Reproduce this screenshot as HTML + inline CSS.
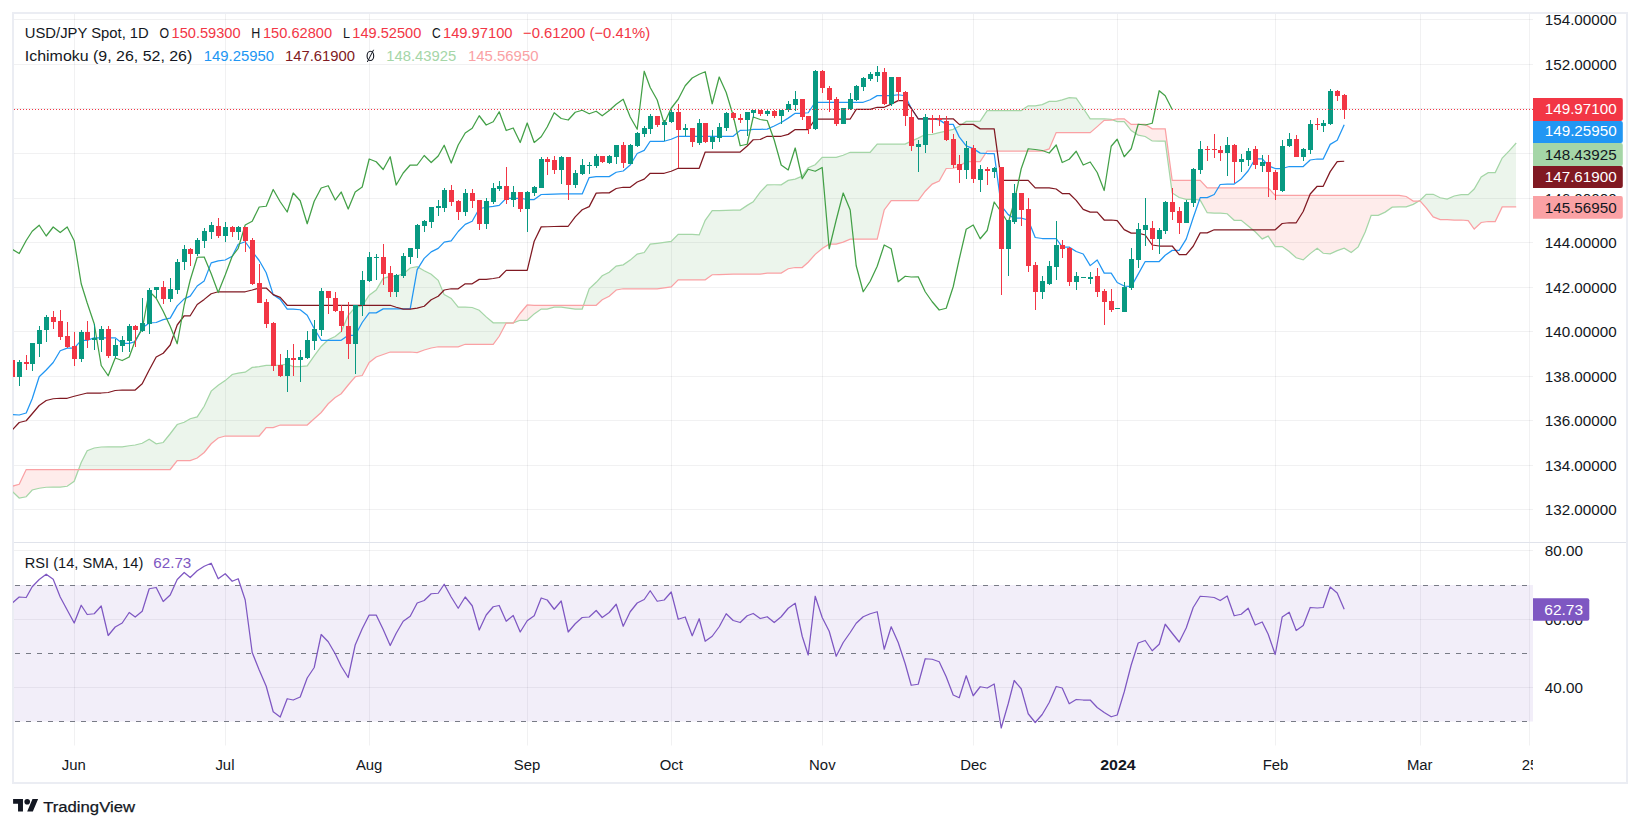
<!DOCTYPE html><html><head><meta charset="utf-8"><title>USD/JPY</title><style>html,body{margin:0;padding:0;background:#fff}body{width:1640px;height:829px;position:relative;overflow:hidden;font-family:"Liberation Sans",sans-serif}</style></head><body><svg width="1640" height="829" viewBox="0 0 1640 829" style="position:absolute;left:0;top:0"><defs><clipPath id="cm"><rect x="13" y="14" width="1520" height="528"/></clipPath><clipPath id="cr"><rect x="13" y="543" width="1520" height="203"/></clipPath></defs><g stroke="#2a2e39" stroke-opacity="0.065" stroke-width="1" fill="none"><path d="M14 509.5H1533"/><path d="M14 465.5H1533"/><path d="M14 420.5H1533"/><path d="M14 376.5H1533"/><path d="M14 331.5H1533"/><path d="M14 287.5H1533"/><path d="M14 242.5H1533"/><path d="M14 198.5H1533"/><path d="M14 153.5H1533"/><path d="M14 108.5H1533"/><path d="M14 64.5H1533"/><path d="M14 19.5H1533"/><path d="M14 550.5H1533"/><path d="M14 619.5H1533"/><path d="M14 687.5H1533"/><path d="M74.5 14V745.5"/><path d="M225.5 14V745.5"/><path d="M369.5 14V745.5"/><path d="M527.5 14V745.5"/><path d="M671.5 14V745.5"/><path d="M822.5 14V745.5"/><path d="M973.5 14V745.5"/><path d="M1117.5 14V745.5"/><path d="M1275.5 14V745.5"/><path d="M1420.5 14V745.5"/><path d="M1529.5 14V745.5"/></g><path d="M14 542.5H1626" stroke="#e0e3eb" stroke-width="1"/><rect x="13" y="13" width="1614" height="770" fill="none" stroke="#ebedf3" stroke-width="2"/><g clip-path="url(#cm)"><path d="M5.2 485.25L7.82 487.5L5.2 488.25ZM78.59 469.5L81.2 462.5L81.2 469.5ZM81.2 462.5L87.2 450.75L87.2 469.5L81.2 469.5ZM87.2 450.75L94.2 448L94.2 469.5L87.2 469.5ZM94.2 448L101.2 447L101.2 469.5L94.2 469.5ZM101.2 447L108.2 446.75L108.2 469.5L101.2 469.5ZM108.2 446.75L115.2 446.75L115.2 469.5L108.2 469.5ZM115.2 446.75L122.2 446.75L122.2 469.5L115.2 469.5ZM122.2 446.75L129.2 445.75L129.2 469.5L122.2 469.5ZM129.2 445.75L135.2 445L135.2 469.5L129.2 469.5ZM135.2 445L142.2 443.25L142.2 469.5L135.2 469.5ZM142.2 443.25L149.2 439.25L149.2 469.5L142.2 469.5ZM149.2 439.25L156.2 443.75L156.2 469.5L149.2 469.5ZM156.2 443.75L163.2 442.5L163.2 469.5L156.2 469.5ZM163.2 442.5L170.2 433.75L170.2 469.5L163.2 469.5ZM170.2 433.75L177.2 424.5L177.2 460.5L170.2 469.5ZM177.2 424.5L184.2 422.25L184.2 460.5L177.2 460.5ZM184.2 422.25L190.2 418.75L190.2 460.5L184.2 460.5ZM190.2 418.75L197.2 416.88L197.2 458L190.2 460.5ZM197.2 416.88L204.2 406.25L204.2 452.5L197.2 458ZM204.2 406.25L211.2 391.12L211.2 443.75L204.2 452.5ZM211.2 391.12L218.2 385.25L218.2 438L211.2 443.75ZM218.2 385.25L225.2 380.62L225.2 436L218.2 438ZM225.2 380.62L232.2 374.5L232.2 436L225.2 436ZM232.2 374.5L238.2 373.19L238.2 436L232.2 436ZM238.2 373.19L245.2 372.19L245.2 436L238.2 436ZM245.2 372.19L252.2 367.44L252.2 436L245.2 436ZM252.2 367.44L259.2 366.69L259.2 436L252.2 436ZM259.2 366.69L266.2 365.38L266.2 427.5L259.2 436ZM266.2 365.38L273.2 365.38L273.2 427.5L266.2 427.5ZM273.2 365.38L280.2 365.12L280.2 425L273.2 427.5ZM280.2 365.12L287.2 364.12L287.2 425L280.2 425ZM287.2 364.12L293.2 366.69L293.2 425L287.2 425ZM293.2 366.69L300.2 366.69L300.2 425L293.2 425ZM300.2 366.69L307.2 365.81L307.2 425L300.2 425ZM307.2 365.81L314.2 355.88L314.2 418.75L307.2 425ZM314.2 355.88L321.2 346.5L321.2 412.5L314.2 418.75ZM321.2 346.5L328.2 339.75L328.2 403.75L321.2 412.5ZM328.2 339.75L335.2 336.44L335.2 397.5L328.2 403.75ZM335.2 336.44L341.2 331.56L341.2 393.75L335.2 397.5ZM341.2 331.56L348.2 315.44L348.2 385L341.2 393.75ZM348.2 315.44L355.2 307.31L355.2 376.75L348.2 385ZM355.2 307.31L362.2 305.94L362.2 375.5L355.2 376.75ZM362.2 305.94L369.2 295.25L369.2 362.5L362.2 375.5ZM369.2 295.25L376.2 290.12L376.2 357L369.2 362.5ZM376.2 290.12L383.2 278.31L383.2 354.5L376.2 357ZM383.2 278.31L390.2 276.31L390.2 352L383.2 354.5ZM390.2 276.31L396.2 275.88L396.2 352L390.2 352ZM396.2 275.88L403.2 274L403.2 352L396.2 352ZM403.2 274L410.2 268L410.2 352L403.2 352ZM410.2 268L417.2 266.75L417.2 352.5L410.2 352ZM417.2 266.75L424.2 270.75L424.2 350L417.2 352.5ZM424.2 270.75L431.2 274.25L431.2 348L424.2 350ZM431.2 274.25L438.2 280.38L438.2 346.75L431.2 348ZM438.2 280.38L444.2 294.62L444.2 346.75L438.2 346.75ZM444.2 294.62L451.2 298.38L451.2 346.75L444.2 346.75ZM451.2 298.38L458.2 307.19L458.2 346.75L451.2 346.75ZM458.2 307.19L465.2 307.19L465.2 344.25L458.2 346.75ZM465.2 307.19L472.2 307.5L472.2 344.25L465.2 344.25ZM472.2 307.5L479.2 310.25L479.2 344.25L472.2 344.25ZM479.2 310.25L486.2 316.88L486.2 344.25L479.2 344.25ZM486.2 316.88L493.2 322.75L493.2 344.25L486.2 344.25ZM493.2 322.75L499.2 322.75L499.2 336.25L493.2 344.25ZM499.2 322.75L506.2 322.75L506.2 323L499.2 336.25ZM506.2 322.75L513.2 322.75L513.2 323L506.2 323ZM513.2 322.75L513.44 322.66L513.2 323ZM583.5 305.25L589.2 288.88L589.2 305.25ZM589.2 288.88L596.2 282.31L596.2 305.25L589.2 305.25ZM596.2 282.31L602.2 275.81L602.2 299.75L596.2 305.25ZM602.2 275.81L609.2 272.31L609.2 296.25L602.2 299.75ZM609.2 272.31L616.2 266.06L616.2 290L609.2 296.25ZM616.2 266.06L623.2 264.81L623.2 288.75L616.2 290ZM623.2 264.81L630.2 260.12L630.2 288.75L623.2 288.75ZM630.2 260.12L637.2 254.06L637.2 288.75L630.2 288.75ZM637.2 254.06L644.2 252.5L644.2 288.75L637.2 288.75ZM644.2 252.5L650.2 244.06L650.2 288.75L644.2 288.75ZM650.2 244.06L657.2 243.31L657.2 288.75L650.2 288.75ZM657.2 243.31L664.2 242.44L664.2 287.88L657.2 288.75ZM664.2 242.44L671.2 241.44L671.2 286.88L664.2 287.88ZM671.2 241.44L678.2 234.31L678.2 279.75L671.2 286.88ZM678.2 234.31L685.2 234.31L685.2 279.75L678.2 279.75ZM685.2 234.31L692.2 234.31L692.2 279.75L685.2 279.75ZM692.2 234.31L699.2 234.94L699.2 279.75L692.2 279.75ZM699.2 234.94L705.2 220.38L705.2 279.75L699.2 279.75ZM705.2 220.38L712.2 210.69L712.2 274.75L705.2 279.75ZM712.2 210.69L719.2 210.56L719.2 274.62L712.2 274.75ZM719.2 210.56L726.2 210.31L726.2 274.38L719.2 274.62ZM726.2 210.31L733.2 210.06L733.2 274.12L726.2 274.38ZM733.2 210.06L740.2 210.06L740.2 274.12L733.2 274.12ZM740.2 210.06L747.2 205.38L747.2 274.12L740.2 274.12ZM747.2 205.38L753.2 201.81L753.2 274.12L747.2 274.12ZM753.2 201.81L760.2 192.12L760.2 274.12L753.2 274.12ZM760.2 192.12L767.2 184.88L767.2 273.12L760.2 274.12ZM767.2 184.88L774.2 184.75L774.2 273.12L767.2 273.12ZM774.2 184.75L781.2 184.75L781.2 273.12L774.2 273.12ZM781.2 184.75L788.2 180.38L788.2 268.75L781.2 273.12ZM788.2 180.38L795.2 179.12L795.2 267.5L788.2 268.75ZM795.2 179.12L802.2 176.12L802.2 267.5L795.2 267.5ZM802.2 176.12L808.2 167.75L808.2 262.25L802.2 267.5ZM808.2 167.75L815.2 164.75L815.2 254.38L808.2 262.25ZM815.2 164.75L822.2 157.25L822.2 248.5L815.2 254.38ZM822.2 157.25L829.2 157.25L829.2 244.12L822.2 248.5ZM829.2 157.25L836.2 157.25L836.2 244.12L829.2 244.12ZM836.2 157.25L843.2 155.25L843.2 242.12L836.2 244.12ZM843.2 155.25L850.2 152.25L850.2 239.12L843.2 242.12ZM850.2 152.25L856.2 152.25L856.2 239.12L850.2 239.12ZM856.2 152.25L863.2 152.25L863.2 239.12L856.2 239.12ZM863.2 152.25L870.2 152.25L870.2 239.12L863.2 239.12ZM870.2 152.25L877.2 144.12L877.2 239.12L870.2 239.12ZM877.2 144.12L884.2 144.12L884.2 210L877.2 239.12ZM884.2 144.12L891.2 144.12L891.2 200.62L884.2 210ZM891.2 144.12L898.2 144.12L898.2 200.62L891.2 200.62ZM898.2 144.12L905.2 144.12L905.2 200.62L898.2 200.62ZM905.2 144.12L911.2 141.19L911.2 200.62L905.2 200.62ZM911.2 141.19L918.2 138.12L918.2 200.62L911.2 200.62ZM918.2 138.12L925.2 134.56L925.2 191.25L918.2 200.62ZM925.2 134.56L932.2 134.44L932.2 184.12L925.2 191.25ZM932.2 134.44L939.2 132.69L939.2 181L932.2 184.12ZM939.2 132.69L946.2 131.12L946.2 168.5L939.2 181ZM946.2 131.12L953.2 129.38L953.2 168.25L946.2 168.5ZM953.2 129.38L959.2 126.25L959.2 166.38L953.2 168.25ZM959.2 126.25L966.2 121.38L966.2 161.5L959.2 166.38ZM966.2 121.38L973.2 121.38L973.2 161.5L966.2 161.5ZM973.2 121.38L980.2 121.12L980.2 161.5L973.2 161.5ZM980.2 121.12L987.2 110.62L987.2 151L980.2 161.5ZM987.2 110.62L994.2 110.62L994.2 151L987.2 151ZM994.2 110.62L1001.2 110.62L1001.2 151L994.2 151ZM1001.2 110.62L1008.2 110.62L1008.2 151L1001.2 151ZM1008.2 110.62L1014.2 110.62L1014.2 151L1008.2 151ZM1014.2 110.62L1021.2 110.62L1021.2 151L1014.2 151ZM1021.2 110.62L1028.2 105.81L1028.2 151L1021.2 151ZM1028.2 105.81L1035.2 105.81L1035.2 151L1028.2 151ZM1035.2 105.81L1042.2 104.56L1042.2 151L1035.2 151ZM1042.2 104.56L1049.2 101.44L1049.2 148.88L1042.2 151ZM1049.2 101.44L1056.2 101.44L1056.2 132.62L1049.2 148.88ZM1056.2 101.44L1062.2 99.88L1062.2 132.62L1056.2 132.62ZM1062.2 99.88L1069.2 97.69L1069.2 132.62L1062.2 132.62ZM1069.2 97.69L1076.2 98.19L1076.2 132.62L1069.2 132.62ZM1076.2 98.19L1083.2 108.25L1083.2 132.62L1076.2 132.62ZM1083.2 108.25L1090.2 118.75L1090.2 132.62L1083.2 132.62ZM1090.2 118.75L1097.2 118.75L1097.2 126.62L1090.2 132.62ZM1097.2 118.75L1104.2 118.75L1104.2 120.38L1097.2 126.62ZM1104.2 118.75L1111.2 119.31L1111.2 120.12L1104.2 120.38ZM1111.2 119.31L1112.54 119.82L1111.2 120.12ZM1418.91 201L1420.2 200.25L1420.2 201ZM1420.2 200.25L1426.2 194.25L1426.2 207.88L1420.2 201ZM1426.2 194.25L1433.2 194.25L1433.2 216.88L1426.2 207.88ZM1433.2 194.25L1440.2 197.75L1440.2 219.62L1433.2 216.88ZM1440.2 197.75L1447.2 199.12L1447.2 219.62L1440.2 219.62ZM1447.2 199.12L1454.2 196L1454.2 220L1447.2 219.62ZM1454.2 196L1461.2 194.62L1461.2 220L1454.2 220ZM1461.2 194.62L1468.2 194.62L1468.2 220.62L1461.2 220ZM1468.2 194.62L1474.2 189L1474.2 229L1468.2 220.62ZM1474.2 189L1481.2 177L1481.2 222.5L1474.2 229ZM1481.2 177L1488.2 172.62L1488.2 221.5L1481.2 222.5ZM1488.2 172.62L1495.2 172.62L1495.2 221.5L1488.2 221.5ZM1495.2 172.62L1502.2 158L1502.2 206.88L1495.2 221.5ZM1502.2 158L1509.2 150.94L1509.2 206.88L1502.2 206.88ZM1509.2 150.94L1516.2 143L1516.2 206.88L1509.2 206.88Z" fill="#43a047" fill-opacity="0.1" shape-rendering="crispEdges"/><path d="M7.82 487.5L12.2 491.25L12.2 486.25ZM12.2 491.25L19.2 498L19.2 484.25L12.2 486.25ZM19.2 498L26.2 496.75L26.2 469.5L19.2 484.25ZM26.2 496.75L32.2 490L32.2 469.5L26.2 469.5ZM32.2 490L39.2 488.25L39.2 469.5L32.2 469.5ZM39.2 488.25L46.2 487.25L46.2 469.5L39.2 469.5ZM46.2 487.25L53.2 487L53.2 469.5L46.2 469.5ZM53.2 487L60.2 487L60.2 469.5L53.2 469.5ZM60.2 487L67.2 486.25L67.2 469.5L60.2 469.5ZM67.2 486.25L74.2 481.25L74.2 469.5L67.2 469.5ZM74.2 481.25L78.59 469.5L74.2 469.5ZM513.44 322.66L520.2 320.25L520.2 313.25ZM520.2 320.25L527.2 320.25L527.2 305L520.2 313.25ZM527.2 320.25L534.2 313.88L534.2 305.25L527.2 305ZM534.2 313.88L541.2 309.06L541.2 305.25L534.2 305.25ZM541.2 309.06L547.2 309.06L547.2 305.25L541.2 305.25ZM547.2 309.06L554.2 307.06L554.2 305.25L547.2 305.25ZM554.2 307.06L561.2 307.06L561.2 305.25L554.2 305.25ZM561.2 307.06L568.2 308.06L568.2 305.25L561.2 305.25ZM568.2 308.06L575.2 309L575.2 305.25L568.2 305.25ZM575.2 309L582.2 309L582.2 305.25L575.2 305.25ZM582.2 309L583.5 305.25L582.2 305.25ZM1112.54 119.82L1117.2 121.56L1117.2 118.75ZM1117.2 121.56L1124.2 121.56L1124.2 118.75L1117.2 118.75ZM1124.2 121.56L1131.2 130.62L1131.2 124.38L1124.2 118.75ZM1131.2 130.62L1138.2 135.12L1138.2 124.38L1131.2 124.38ZM1138.2 135.12L1145.2 136.5L1145.2 124.38L1138.2 124.38ZM1145.2 136.5L1152.2 141L1152.2 128.88L1145.2 124.38ZM1152.2 141L1159.2 141.19L1159.2 128.88L1152.2 128.88ZM1159.2 141.19L1165.2 141.19L1165.2 128.88L1159.2 128.88ZM1165.2 141.19L1172.2 193L1172.2 180.38L1165.2 128.88ZM1172.2 193L1179.2 197.5L1179.2 180.38L1172.2 180.38ZM1179.2 197.5L1186.2 199.25L1186.2 180.38L1179.2 180.38ZM1186.2 199.25L1193.2 199.25L1193.2 180.38L1186.2 180.38ZM1193.2 199.25L1200.2 200.19L1200.2 180.38L1193.2 180.38ZM1200.2 200.19L1207.2 212.69L1207.2 187.88L1200.2 180.38ZM1207.2 212.69L1214.2 213.19L1214.2 187.88L1207.2 187.88ZM1214.2 213.19L1220.2 213.19L1220.2 187.88L1214.2 187.88ZM1220.2 213.19L1227.2 213.75L1227.2 187.88L1220.2 187.88ZM1227.2 213.75L1234.2 220.31L1234.2 187.88L1227.2 187.88ZM1234.2 220.31L1241.2 220.31L1241.2 187.88L1234.2 187.88ZM1241.2 220.31L1248.2 225.94L1248.2 187.88L1241.2 187.88ZM1248.2 225.94L1255.2 231.69L1255.2 187.88L1248.2 187.88ZM1255.2 231.69L1262.2 238.88L1262.2 187.88L1255.2 187.88ZM1262.2 238.88L1268.2 236.06L1268.2 187.88L1262.2 187.88ZM1268.2 236.06L1275.2 246.56L1275.2 195.38L1268.2 187.88ZM1275.2 246.56L1282.2 246.56L1282.2 195.38L1275.2 195.38ZM1282.2 246.56L1289.2 251.56L1289.2 195.38L1282.2 195.38ZM1289.2 251.56L1296.2 257.81L1296.2 195.38L1289.2 195.38ZM1296.2 257.81L1303.2 259.88L1303.2 195.38L1296.2 195.38ZM1303.2 259.88L1310.2 253.62L1310.2 195.38L1303.2 195.38ZM1310.2 253.62L1317.2 248.25L1317.2 195.38L1310.2 195.38ZM1317.2 248.25L1323.2 253.25L1323.2 195.38L1317.2 195.38ZM1323.2 253.25L1330.2 253.75L1330.2 195.38L1323.2 195.38ZM1330.2 253.75L1337.2 250.62L1337.2 195.38L1330.2 195.38ZM1337.2 250.62L1344.2 248.19L1344.2 195.38L1337.2 195.38ZM1344.2 248.19L1351.2 252.5L1351.2 195.38L1344.2 195.38ZM1351.2 252.5L1358.2 246.88L1358.2 195.38L1351.2 195.38ZM1358.2 246.88L1365.2 232L1365.2 195.38L1358.2 195.38ZM1365.2 232L1371.2 215.25L1371.2 195.38L1365.2 195.38ZM1371.2 215.25L1378.2 215.25L1378.2 195.38L1371.2 195.38ZM1378.2 215.25L1385.2 212.12L1385.2 195.38L1378.2 195.38ZM1385.2 212.12L1392.2 207.12L1392.2 195.38L1385.2 195.38ZM1392.2 207.12L1399.2 206.94L1399.2 195.38L1392.2 195.38ZM1399.2 206.94L1406.2 206.94L1406.2 196.5L1399.2 195.38ZM1406.2 206.94L1413.2 204.31L1413.2 201L1406.2 196.5ZM1413.2 204.31L1418.91 201L1413.2 201Z" fill="#f44336" fill-opacity="0.1" shape-rendering="crispEdges"/><polyline points="5.2,485.25 12.2,491.25 19.2,498 26.2,496.75 32.2,490 39.2,488.25 46.2,487.25 53.2,487 60.2,487 67.2,486.25 74.2,481.25 81.2,462.5 87.2,450.75 94.2,448 101.2,447 108.2,446.75 115.2,446.75 122.2,446.75 129.2,445.75 135.2,445 142.2,443.25 149.2,439.25 156.2,443.75 163.2,442.5 170.2,433.75 177.2,424.5 184.2,422.25 190.2,418.75 197.2,416.88 204.2,406.25 211.2,391.12 218.2,385.25 225.2,380.62 232.2,374.5 238.2,373.19 245.2,372.19 252.2,367.44 259.2,366.69 266.2,365.38 273.2,365.38 280.2,365.12 287.2,364.12 293.2,366.69 300.2,366.69 307.2,365.81 314.2,355.88 321.2,346.5 328.2,339.75 335.2,336.44 341.2,331.56 348.2,315.44 355.2,307.31 362.2,305.94 369.2,295.25 376.2,290.12 383.2,278.31 390.2,276.31 396.2,275.88 403.2,274 410.2,268 417.2,266.75 424.2,270.75 431.2,274.25 438.2,280.38 444.2,294.62 451.2,298.38 458.2,307.19 465.2,307.19 472.2,307.5 479.2,310.25 486.2,316.88 493.2,322.75 499.2,322.75 506.2,322.75 513.2,322.75 520.2,320.25 527.2,320.25 534.2,313.88 541.2,309.06 547.2,309.06 554.2,307.06 561.2,307.06 568.2,308.06 575.2,309 582.2,309 589.2,288.88 596.2,282.31 602.2,275.81 609.2,272.31 616.2,266.06 623.2,264.81 630.2,260.12 637.2,254.06 644.2,252.5 650.2,244.06 657.2,243.31 664.2,242.44 671.2,241.44 678.2,234.31 685.2,234.31 692.2,234.31 699.2,234.94 705.2,220.38 712.2,210.69 719.2,210.56 726.2,210.31 733.2,210.06 740.2,210.06 747.2,205.38 753.2,201.81 760.2,192.12 767.2,184.88 774.2,184.75 781.2,184.75 788.2,180.38 795.2,179.12 802.2,176.12 808.2,167.75 815.2,164.75 822.2,157.25 829.2,157.25 836.2,157.25 843.2,155.25 850.2,152.25 856.2,152.25 863.2,152.25 870.2,152.25 877.2,144.12 884.2,144.12 891.2,144.12 898.2,144.12 905.2,144.12 911.2,141.19 918.2,138.12 925.2,134.56 932.2,134.44 939.2,132.69 946.2,131.12 953.2,129.38 959.2,126.25 966.2,121.38 973.2,121.38 980.2,121.12 987.2,110.62 994.2,110.62 1001.2,110.62 1008.2,110.62 1014.2,110.62 1021.2,110.62 1028.2,105.81 1035.2,105.81 1042.2,104.56 1049.2,101.44 1056.2,101.44 1062.2,99.88 1069.2,97.69 1076.2,98.19 1083.2,108.25 1090.2,118.75 1097.2,118.75 1104.2,118.75 1111.2,119.31 1117.2,121.56 1124.2,121.56 1131.2,130.62 1138.2,135.12 1145.2,136.5 1152.2,141 1159.2,141.19 1165.2,141.19 1172.2,193 1179.2,197.5 1186.2,199.25 1193.2,199.25 1200.2,200.19 1207.2,212.69 1214.2,213.19 1220.2,213.19 1227.2,213.75 1234.2,220.31 1241.2,220.31 1248.2,225.94 1255.2,231.69 1262.2,238.88 1268.2,236.06 1275.2,246.56 1282.2,246.56 1289.2,251.56 1296.2,257.81 1303.2,259.88 1310.2,253.62 1317.2,248.25 1323.2,253.25 1330.2,253.75 1337.2,250.62 1344.2,248.19 1351.2,252.5 1358.2,246.88 1365.2,232 1371.2,215.25 1378.2,215.25 1385.2,212.12 1392.2,207.12 1399.2,206.94 1406.2,206.94 1413.2,204.31 1420.2,200.25 1426.2,194.25 1433.2,194.25 1440.2,197.75 1447.2,199.12 1454.2,196 1461.2,194.62 1468.2,194.62 1474.2,189 1481.2,177 1488.2,172.62 1495.2,172.62 1502.2,158 1509.2,150.94 1516.2,143" fill="none" stroke="#a5d6a7" stroke-width="1.25"/><polyline points="5.2,488.25 12.2,486.25 19.2,484.25 26.2,469.5 32.2,469.5 39.2,469.5 46.2,469.5 53.2,469.5 60.2,469.5 67.2,469.5 74.2,469.5 81.2,469.5 87.2,469.5 94.2,469.5 101.2,469.5 108.2,469.5 115.2,469.5 122.2,469.5 129.2,469.5 135.2,469.5 142.2,469.5 149.2,469.5 156.2,469.5 163.2,469.5 170.2,469.5 177.2,460.5 184.2,460.5 190.2,460.5 197.2,458 204.2,452.5 211.2,443.75 218.2,438 225.2,436 232.2,436 238.2,436 245.2,436 252.2,436 259.2,436 266.2,427.5 273.2,427.5 280.2,425 287.2,425 293.2,425 300.2,425 307.2,425 314.2,418.75 321.2,412.5 328.2,403.75 335.2,397.5 341.2,393.75 348.2,385 355.2,376.75 362.2,375.5 369.2,362.5 376.2,357 383.2,354.5 390.2,352 396.2,352 403.2,352 410.2,352 417.2,352.5 424.2,350 431.2,348 438.2,346.75 444.2,346.75 451.2,346.75 458.2,346.75 465.2,344.25 472.2,344.25 479.2,344.25 486.2,344.25 493.2,344.25 499.2,336.25 506.2,323 513.2,323 520.2,313.25 527.2,305 534.2,305.25 541.2,305.25 547.2,305.25 554.2,305.25 561.2,305.25 568.2,305.25 575.2,305.25 582.2,305.25 589.2,305.25 596.2,305.25 602.2,299.75 609.2,296.25 616.2,290 623.2,288.75 630.2,288.75 637.2,288.75 644.2,288.75 650.2,288.75 657.2,288.75 664.2,287.88 671.2,286.88 678.2,279.75 685.2,279.75 692.2,279.75 699.2,279.75 705.2,279.75 712.2,274.75 719.2,274.62 726.2,274.38 733.2,274.12 740.2,274.12 747.2,274.12 753.2,274.12 760.2,274.12 767.2,273.12 774.2,273.12 781.2,273.12 788.2,268.75 795.2,267.5 802.2,267.5 808.2,262.25 815.2,254.38 822.2,248.5 829.2,244.12 836.2,244.12 843.2,242.12 850.2,239.12 856.2,239.12 863.2,239.12 870.2,239.12 877.2,239.12 884.2,210 891.2,200.62 898.2,200.62 905.2,200.62 911.2,200.62 918.2,200.62 925.2,191.25 932.2,184.12 939.2,181 946.2,168.5 953.2,168.25 959.2,166.38 966.2,161.5 973.2,161.5 980.2,161.5 987.2,151 994.2,151 1001.2,151 1008.2,151 1014.2,151 1021.2,151 1028.2,151 1035.2,151 1042.2,151 1049.2,148.88 1056.2,132.62 1062.2,132.62 1069.2,132.62 1076.2,132.62 1083.2,132.62 1090.2,132.62 1097.2,126.62 1104.2,120.38 1111.2,120.12 1117.2,118.75 1124.2,118.75 1131.2,124.38 1138.2,124.38 1145.2,124.38 1152.2,128.88 1159.2,128.88 1165.2,128.88 1172.2,180.38 1179.2,180.38 1186.2,180.38 1193.2,180.38 1200.2,180.38 1207.2,187.88 1214.2,187.88 1220.2,187.88 1227.2,187.88 1234.2,187.88 1241.2,187.88 1248.2,187.88 1255.2,187.88 1262.2,187.88 1268.2,187.88 1275.2,195.38 1282.2,195.38 1289.2,195.38 1296.2,195.38 1303.2,195.38 1310.2,195.38 1317.2,195.38 1323.2,195.38 1330.2,195.38 1337.2,195.38 1344.2,195.38 1351.2,195.38 1358.2,195.38 1365.2,195.38 1371.2,195.38 1378.2,195.38 1385.2,195.38 1392.2,195.38 1399.2,195.38 1406.2,196.5 1413.2,201 1420.2,201 1426.2,207.88 1433.2,216.88 1440.2,219.62 1447.2,219.62 1454.2,220 1461.2,220 1468.2,220.62 1474.2,229 1481.2,222.5 1488.2,221.5 1495.2,221.5 1502.2,206.88 1509.2,206.88 1516.2,206.88" fill="none" stroke="#faa1a4" stroke-width="1.25"/><polyline points="5.2,414 12.2,414.5 19.2,415 26.2,413 32.2,398.75 39.2,376.75 46.2,370 53.2,362.5 60.2,350.75 67.2,348.12 74.2,348.12 81.2,340.38 87.2,340.38 94.2,337.75 101.2,337.75 108.2,337.75 115.2,337.75 122.2,343.38 129.2,343.38 135.2,341.62 142.2,328 149.2,323 156.2,322.5 163.2,319.62 170.2,318.12 177.2,305.88 184.2,298.88 190.2,296.12 197.2,286 204.2,280.88 211.2,262.88 218.2,260.88 225.2,260 232.2,256.25 238.2,244.25 245.2,241.75 252.2,251.5 259.2,260.5 266.2,272.75 273.2,294.62 280.2,299.38 287.2,309.12 293.2,309.12 300.2,309.75 307.2,315.25 314.2,328.5 321.2,340.25 328.2,340.25 335.2,340.25 341.2,340.25 348.2,335.25 355.2,335.25 362.2,322.5 369.2,312.88 376.2,312.88 383.2,308.88 390.2,308.88 396.2,308.88 403.2,308.88 410.2,308.88 417.2,269.62 424.2,258.38 431.2,251.88 438.2,248.38 444.2,242.12 451.2,240.88 458.2,231.5 465.2,224.38 472.2,221.25 479.2,208.75 486.2,207.25 493.2,206.38 499.2,205.38 506.2,198.25 513.2,198.25 520.2,198.25 527.2,199.5 534.2,199.5 541.2,194.5 547.2,194.38 554.2,194.12 561.2,193.88 568.2,193.88 575.2,193.88 582.2,193.88 589.2,177.62 596.2,176.62 602.2,176.62 609.2,176.62 616.2,172.25 623.2,171 630.2,165 637.2,153.5 644.2,150.38 650.2,141.25 657.2,141.25 664.2,141.25 671.2,139.25 678.2,136.25 685.2,136.25 692.2,136.25 699.2,136.25 705.2,136.25 712.2,136.25 719.2,136.25 726.2,136.25 733.2,136.25 740.2,130.38 747.2,130.25 753.2,129.38 760.2,129.38 767.2,129.12 774.2,126 781.2,122.5 788.2,118.12 795.2,113.25 802.2,113.25 808.2,112.75 815.2,102.25 822.2,102.25 829.2,102.25 836.2,102.25 843.2,102.25 850.2,102.25 856.2,102.25 863.2,102.25 870.2,99.75 877.2,95.62 884.2,95.62 891.2,95.62 898.2,94.75 905.2,95.75 911.2,108.25 918.2,118.75 925.2,118.75 932.2,118.75 939.2,119.88 946.2,124.38 953.2,124.38 959.2,136.88 966.2,145.88 973.2,148.62 980.2,153.12 987.2,153.5 994.2,153.5 1001.2,205.62 1008.2,214.62 1014.2,218.12 1021.2,218.12 1028.2,220 1035.2,237.5 1042.2,238.5 1049.2,238.5 1056.2,238.5 1062.2,247.12 1069.2,247.12 1076.2,251.5 1083.2,254 1090.2,265.62 1097.2,260 1104.2,273.12 1111.2,273.12 1117.2,282.5 1124.2,286 1131.2,286.62 1138.2,274.12 1145.2,261.5 1152.2,261.5 1159.2,261.5 1165.2,255.25 1172.2,250.38 1179.2,250.38 1186.2,239.12 1193.2,217.75 1200.2,197.62 1207.2,197.62 1214.2,194.5 1220.2,184.5 1227.2,184.12 1234.2,184.12 1241.2,178.88 1248.2,170.75 1255.2,158.75 1262.2,158.75 1268.2,165.75 1275.2,168.5 1282.2,168.5 1289.2,166.5 1296.2,166.5 1303.2,166.5 1310.2,160 1317.2,159 1323.2,159 1330.2,144.38 1337.2,140.25 1344.2,124.75" fill="none" stroke="#2196f3" stroke-width="1.25" stroke-linejoin="round"/><polyline points="5.2,437 12.2,430 19.2,422.5 26.2,420.75 32.2,413.75 39.2,405.5 46.2,400.5 53.2,398.75 60.2,398.25 67.2,398.25 74.2,396.25 81.2,394.5 87.2,393 94.2,393 101.2,393 108.2,392.5 115.2,390.5 122.2,390 129.2,390 135.2,390 142.2,383.75 149.2,370 156.2,357 163.2,353.25 170.2,345 177.2,325 184.2,315.75 190.2,315.75 197.2,304.5 204.2,299.38 211.2,293.75 218.2,291.75 225.2,291.75 232.2,291.75 238.2,291.75 245.2,291.75 252.2,290 259.2,288 266.2,288 273.2,294.62 280.2,297.38 287.2,305.25 293.2,305.25 300.2,305.25 307.2,305.25 314.2,305.25 321.2,305.25 328.2,305.25 335.2,305.25 341.2,305.25 348.2,305.25 355.2,305.25 362.2,305.25 369.2,305.25 376.2,305.25 383.2,305.25 390.2,305.25 396.2,307.25 403.2,309.12 410.2,309.12 417.2,308.12 424.2,306.25 431.2,299.75 438.2,296.25 444.2,290 451.2,288.75 458.2,288.75 465.2,283.75 472.2,283.75 479.2,279.38 486.2,279.38 493.2,278.5 499.2,277.5 506.2,270.38 513.2,270.38 520.2,270.38 527.2,270.38 534.2,241.25 541.2,226.88 547.2,226.75 554.2,226.5 561.2,226.25 568.2,226.25 575.2,216.88 582.2,209.75 589.2,206.62 596.2,193.12 602.2,192.88 609.2,192.88 616.2,188.5 623.2,187.25 630.2,187.25 637.2,182 644.2,179.12 650.2,173.25 657.2,173.25 664.2,173.25 671.2,171.25 678.2,168.25 685.2,168.25 692.2,168.25 699.2,168.25 705.2,152 712.2,152 719.2,152 726.2,152 733.2,152 740.2,152 747.2,146 753.2,139.75 760.2,139.5 767.2,136.25 774.2,136.25 781.2,136.25 788.2,134.38 795.2,129.5 802.2,129.5 808.2,129.5 815.2,119 822.2,119 829.2,119 836.2,119 843.2,119 850.2,119 856.2,109.38 863.2,109.38 870.2,109.38 877.2,107.25 884.2,107.25 891.2,104.12 898.2,100.62 905.2,100.62 911.2,108.25 918.2,118.75 925.2,118.75 932.2,118.75 939.2,118.75 946.2,118.75 953.2,118.75 959.2,124.38 966.2,124.38 973.2,124.38 980.2,128.88 987.2,128.88 994.2,128.88 1001.2,180.38 1008.2,180.38 1014.2,180.38 1021.2,180.38 1028.2,180.38 1035.2,187.88 1042.2,187.88 1049.2,187.88 1056.2,189 1062.2,193.5 1069.2,193.5 1076.2,200.38 1083.2,209.38 1090.2,212.12 1097.2,212.12 1104.2,220 1111.2,220 1117.2,220.62 1124.2,229.62 1131.2,233.12 1138.2,233.12 1145.2,235 1152.2,245 1159.2,246 1165.2,246 1172.2,246 1179.2,254.62 1186.2,254.62 1193.2,246.25 1200.2,232.88 1207.2,232.88 1214.2,229.75 1220.2,229.75 1227.2,229.75 1234.2,229.75 1241.2,229.75 1248.2,229.75 1255.2,229.75 1262.2,229.75 1268.2,229.75 1275.2,229.75 1282.2,223.5 1289.2,222.75 1296.2,222.75 1303.2,211.5 1310.2,194 1317.2,186.25 1323.2,186.25 1330.2,171.62 1337.2,161.62 1344.2,161.25" fill="none" stroke="#801922" stroke-width="1.25" stroke-linejoin="round"/><polyline points="5.2,262.25 12.2,249.25 19.2,253.5 26.2,240.5 32.2,231.25 39.2,225.25 46.2,236 53.2,227 60.2,232.5 67.2,227 74.2,240.75 81.2,283.75 87.2,303 94.2,323.75 101.2,365.5 108.2,375.75 115.2,358 122.2,360.5 129.2,357 135.2,340.5 142.2,329.25 149.2,291.25 156.2,298.25 163.2,311.25 170.2,326.25 177.2,343.75 184.2,305 190.2,280 197.2,257.25 204.2,257 211.2,273.75 218.2,292.5 225.2,275 232.2,256.25 238.2,248.25 245.2,225 252.2,221.25 259.2,207 266.2,206.25 273.2,189.5 280.2,201.75 287.2,212 293.2,193 300.2,200.75 307.2,223.75 314.2,201.25 321.2,188 328.2,185.75 335.2,200 341.2,192 348.2,209 355.2,192 362.2,187 369.2,159 376.2,161.75 383.2,169.5 390.2,156.75 396.2,185 403.2,173 410.2,165 417.2,165 424.2,155.5 431.2,162.5 438.2,156 444.2,145.25 451.2,163 458.2,145 465.2,133 472.2,128.25 479.2,115.75 486.2,125 493.2,121.75 499.2,111.75 506.2,130.5 513.2,128 520.2,142.5 527.2,123 534.2,142.5 541.2,136.75 547.2,127 554.2,112.75 561.2,118.5 568.2,120 575.2,112.25 582.2,110.25 589.2,113.75 596.2,111.25 602.2,115.75 609.2,110.5 616.2,104.25 623.2,99.25 630.2,117 637.2,129.25 644.2,71.25 650.2,87.5 657.2,100 664.2,123.75 671.2,108.25 678.2,99.25 685.2,85.75 692.2,78 699.2,74.25 705.2,71.75 712.2,103.75 719.2,77 726.2,92.5 733.2,115.75 740.2,145.75 747.2,144.25 753.2,117 760.2,119.5 767.2,120.5 774.2,140 781.2,165 788.2,170 795.2,148 802.2,178.75 808.2,169.25 815.2,171.25 822.2,167.5 829.2,248.75 836.2,220 843.2,193 850.2,210 856.2,265.75 863.2,291.75 870.2,281.25 877.2,266.25 884.2,245 891.2,248.75 898.2,281.75 905.2,276.25 911.2,277 918.2,276.75 925.2,291.75 932.2,301.75 939.2,310 946.2,308.25 953.2,286.75 959.2,259.25 966.2,229.25 973.2,225 980.2,238.75 987.2,230.5 994.2,202 1001.2,212 1008.2,223 1014.2,202 1021.2,168.75 1028.2,148.75 1035.2,149.5 1042.2,150.5 1049.2,153 1056.2,145 1062.2,162.5 1069.2,159.25 1076.2,151.25 1083.2,165 1090.2,162 1097.2,172.5 1104.2,190.5 1111.2,146.25 1117.2,139.25 1124.2,156.75 1131.2,148.75 1138.2,124.25 1145.2,125 1152.2,123.25 1159.2,90.75 1165.2,95.75 1172.2,109.5" fill="none" stroke="#43a047" stroke-width="1.25" stroke-linejoin="round"/><g fill="#089981" shape-rendering="crispEdges"><rect x="19" y="360" width="1" height="26"/><rect x="17" y="362" width="5" height="15"/><rect x="32" y="343" width="1" height="28"/><rect x="30" y="343" width="5" height="21"/><rect x="39" y="326" width="1" height="31"/><rect x="37" y="330" width="5" height="14"/><rect x="46" y="315" width="1" height="27"/><rect x="44" y="317" width="5" height="13"/><rect x="81" y="330" width="1" height="32"/><rect x="79" y="332" width="5" height="27"/><rect x="94" y="324" width="1" height="26"/><rect x="92" y="338" width="5" height="2"/><rect x="101" y="326" width="1" height="26"/><rect x="99" y="329" width="5" height="11"/><rect x="115" y="339" width="1" height="19"/><rect x="113" y="345" width="5" height="11"/><rect x="122" y="336" width="1" height="16"/><rect x="120" y="340" width="5" height="6"/><rect x="129" y="324" width="1" height="28"/><rect x="127" y="326" width="5" height="15"/><rect x="142" y="298" width="1" height="34"/><rect x="140" y="323" width="5" height="8"/><rect x="149" y="288" width="1" height="46"/><rect x="147" y="290" width="5" height="34"/><rect x="156" y="287" width="1" height="11"/><rect x="154" y="287" width="5" height="3"/><rect x="170" y="278" width="1" height="24"/><rect x="168" y="289" width="5" height="10"/><rect x="177" y="259" width="1" height="35"/><rect x="175" y="262" width="5" height="28"/><rect x="184" y="245" width="1" height="25"/><rect x="182" y="249" width="5" height="13"/><rect x="197" y="238" width="1" height="18"/><rect x="195" y="240" width="5" height="14"/><rect x="204" y="228" width="1" height="20"/><rect x="202" y="231" width="5" height="10"/><rect x="211" y="222" width="1" height="17"/><rect x="209" y="225" width="5" height="7"/><rect x="225" y="222" width="1" height="20"/><rect x="223" y="227" width="5" height="9"/><rect x="238" y="226" width="1" height="14"/><rect x="236" y="227" width="5" height="5"/><rect x="287" y="350" width="1" height="42"/><rect x="285" y="358" width="5" height="18"/><rect x="300" y="350" width="1" height="32"/><rect x="298" y="357" width="5" height="3"/><rect x="307" y="331" width="1" height="28"/><rect x="305" y="340" width="5" height="18"/><rect x="314" y="320" width="1" height="30"/><rect x="312" y="329" width="5" height="12"/><rect x="321" y="288" width="1" height="48"/><rect x="319" y="291" width="5" height="39"/><rect x="355" y="305" width="1" height="69"/><rect x="353" y="305" width="5" height="39"/><rect x="362" y="271" width="1" height="45"/><rect x="360" y="280" width="5" height="25"/><rect x="369" y="252" width="1" height="30"/><rect x="367" y="257" width="5" height="24"/><rect x="376" y="254" width="1" height="26"/><rect x="374" y="257" width="5" height="1"/><rect x="396" y="274" width="1" height="23"/><rect x="394" y="275" width="5" height="17"/><rect x="403" y="253" width="1" height="25"/><rect x="401" y="256" width="5" height="20"/><rect x="410" y="248" width="1" height="16"/><rect x="408" y="248" width="5" height="9"/><rect x="417" y="224" width="1" height="34"/><rect x="415" y="225" width="5" height="24"/><rect x="424" y="220" width="1" height="12"/><rect x="422" y="221" width="5" height="5"/><rect x="431" y="207" width="1" height="21"/><rect x="429" y="207" width="5" height="15"/><rect x="438" y="200" width="1" height="16"/><rect x="436" y="206" width="5" height="2"/><rect x="444" y="188" width="1" height="24"/><rect x="442" y="190" width="5" height="18"/><rect x="465" y="189" width="1" height="27"/><rect x="463" y="193" width="5" height="19"/><rect x="486" y="198" width="1" height="31"/><rect x="484" y="201" width="5" height="23"/><rect x="493" y="183" width="1" height="21"/><rect x="491" y="188" width="5" height="14"/><rect x="499" y="181" width="1" height="10"/><rect x="497" y="186" width="5" height="3"/><rect x="513" y="186" width="1" height="21"/><rect x="511" y="192" width="5" height="8"/><rect x="527" y="191" width="1" height="41"/><rect x="525" y="192" width="5" height="17"/><rect x="534" y="186" width="1" height="10"/><rect x="532" y="187" width="5" height="6"/><rect x="541" y="157" width="1" height="31"/><rect x="539" y="159" width="5" height="29"/><rect x="561" y="156" width="1" height="28"/><rect x="559" y="157" width="5" height="13"/><rect x="575" y="170" width="1" height="18"/><rect x="573" y="173" width="5" height="12"/><rect x="582" y="159" width="1" height="16"/><rect x="580" y="165" width="5" height="9"/><rect x="589" y="162" width="1" height="12"/><rect x="587" y="165" width="5" height="1"/><rect x="596" y="154" width="1" height="14"/><rect x="594" y="156" width="5" height="10"/><rect x="609" y="155" width="1" height="9"/><rect x="607" y="156" width="5" height="7"/><rect x="616" y="145" width="1" height="19"/><rect x="614" y="145" width="5" height="12"/><rect x="630" y="144" width="1" height="20"/><rect x="628" y="145" width="5" height="19"/><rect x="637" y="132" width="1" height="15"/><rect x="635" y="133" width="5" height="13"/><rect x="644" y="126" width="1" height="11"/><rect x="642" y="128" width="5" height="6"/><rect x="650" y="114" width="1" height="20"/><rect x="648" y="116" width="5" height="13"/><rect x="664" y="120" width="1" height="21"/><rect x="662" y="122" width="5" height="3"/><rect x="671" y="110" width="1" height="13"/><rect x="669" y="112" width="5" height="10"/><rect x="685" y="124" width="1" height="12"/><rect x="683" y="128" width="5" height="2"/><rect x="699" y="119" width="1" height="26"/><rect x="697" y="123" width="5" height="20"/><rect x="712" y="130" width="1" height="19"/><rect x="710" y="137" width="5" height="5"/><rect x="719" y="123" width="1" height="19"/><rect x="717" y="127" width="5" height="11"/><rect x="726" y="112" width="1" height="19"/><rect x="724" y="113" width="5" height="15"/><rect x="747" y="112" width="1" height="24"/><rect x="745" y="112" width="5" height="8"/><rect x="753" y="110" width="1" height="8"/><rect x="751" y="110" width="5" height="3"/><rect x="767" y="110" width="1" height="6"/><rect x="765" y="111" width="5" height="3"/><rect x="781" y="110" width="1" height="14"/><rect x="779" y="110" width="5" height="6"/><rect x="788" y="101" width="1" height="11"/><rect x="786" y="104" width="5" height="6"/><rect x="795" y="91" width="1" height="20"/><rect x="793" y="99" width="5" height="6"/><rect x="815" y="70" width="1" height="60"/><rect x="813" y="71" width="5" height="58"/><rect x="843" y="108" width="1" height="16"/><rect x="841" y="108" width="5" height="16"/><rect x="850" y="93" width="1" height="17"/><rect x="848" y="99" width="5" height="10"/><rect x="856" y="85" width="1" height="16"/><rect x="854" y="86" width="5" height="14"/><rect x="863" y="77" width="1" height="14"/><rect x="861" y="78" width="5" height="9"/><rect x="870" y="72" width="1" height="9"/><rect x="868" y="74" width="5" height="5"/><rect x="877" y="66" width="1" height="16"/><rect x="875" y="72" width="5" height="4"/><rect x="891" y="77" width="1" height="29"/><rect x="889" y="77" width="5" height="27"/><rect x="918" y="140" width="1" height="32"/><rect x="916" y="144" width="5" height="3"/><rect x="925" y="114" width="1" height="39"/><rect x="923" y="117" width="5" height="28"/><rect x="966" y="141" width="1" height="38"/><rect x="964" y="148" width="5" height="22"/><rect x="980" y="165" width="1" height="27"/><rect x="978" y="169" width="5" height="11"/><rect x="994" y="167" width="1" height="11"/><rect x="992" y="168" width="5" height="4"/><rect x="1008" y="220" width="1" height="56"/><rect x="1006" y="220" width="5" height="29"/><rect x="1014" y="184" width="1" height="40"/><rect x="1012" y="193" width="5" height="29"/><rect x="1042" y="276" width="1" height="23"/><rect x="1040" y="281" width="5" height="11"/><rect x="1049" y="261" width="1" height="24"/><rect x="1047" y="266" width="5" height="18"/><rect x="1056" y="221" width="1" height="59"/><rect x="1054" y="245" width="5" height="22"/><rect x="1076" y="272" width="1" height="18"/><rect x="1074" y="276" width="5" height="6"/><rect x="1083" y="277" width="1" height="1"/><rect x="1081" y="277" width="5" height="1"/><rect x="1090" y="272" width="1" height="12"/><rect x="1088" y="277" width="5" height="2"/><rect x="1117" y="308" width="1" height="1"/><rect x="1115" y="308" width="5" height="1"/><rect x="1124" y="282" width="1" height="30"/><rect x="1122" y="287" width="5" height="25"/><rect x="1131" y="248" width="1" height="42"/><rect x="1129" y="259" width="5" height="29"/><rect x="1138" y="223" width="1" height="45"/><rect x="1136" y="229" width="5" height="31"/><rect x="1145" y="198" width="1" height="48"/><rect x="1143" y="225" width="5" height="5"/><rect x="1159" y="228" width="1" height="26"/><rect x="1157" y="230" width="5" height="9"/><rect x="1165" y="201" width="1" height="33"/><rect x="1163" y="202" width="5" height="29"/><rect x="1186" y="200" width="1" height="23"/><rect x="1184" y="202" width="5" height="21"/><rect x="1193" y="168" width="1" height="39"/><rect x="1191" y="169" width="5" height="34"/><rect x="1200" y="141" width="1" height="33"/><rect x="1198" y="149" width="5" height="21"/><rect x="1227" y="137" width="1" height="39"/><rect x="1225" y="145" width="5" height="8"/><rect x="1241" y="154" width="1" height="18"/><rect x="1239" y="159" width="5" height="3"/><rect x="1248" y="148" width="1" height="18"/><rect x="1246" y="151" width="5" height="9"/><rect x="1262" y="155" width="1" height="17"/><rect x="1260" y="162" width="5" height="4"/><rect x="1282" y="140" width="1" height="52"/><rect x="1280" y="146" width="5" height="45"/><rect x="1289" y="133" width="1" height="14"/><rect x="1287" y="139" width="5" height="7"/><rect x="1303" y="148" width="1" height="13"/><rect x="1301" y="149" width="5" height="8"/><rect x="1310" y="120" width="1" height="34"/><rect x="1308" y="124" width="5" height="26"/><rect x="1323" y="120" width="1" height="12"/><rect x="1321" y="123" width="5" height="3"/><rect x="1330" y="89" width="1" height="36"/><rect x="1328" y="91" width="5" height="33"/></g><g fill="#f23645" shape-rendering="crispEdges"><rect x="12" y="360" width="1" height="20"/><rect x="10" y="360" width="5" height="17"/><rect x="26" y="355" width="1" height="15"/><rect x="24" y="362" width="5" height="2"/><rect x="53" y="311" width="1" height="18"/><rect x="51" y="317" width="5" height="5"/><rect x="60" y="310" width="1" height="30"/><rect x="58" y="321" width="5" height="16"/><rect x="67" y="322" width="1" height="26"/><rect x="65" y="336" width="5" height="11"/><rect x="74" y="332" width="1" height="34"/><rect x="72" y="346" width="5" height="13"/><rect x="87" y="321" width="1" height="27"/><rect x="85" y="332" width="5" height="8"/><rect x="108" y="326" width="1" height="32"/><rect x="106" y="329" width="5" height="27"/><rect x="135" y="325" width="1" height="22"/><rect x="133" y="326" width="5" height="4"/><rect x="163" y="281" width="1" height="23"/><rect x="161" y="287" width="5" height="12"/><rect x="190" y="248" width="1" height="18"/><rect x="188" y="249" width="5" height="5"/><rect x="218" y="218" width="1" height="20"/><rect x="216" y="226" width="5" height="10"/><rect x="232" y="226" width="1" height="11"/><rect x="230" y="227" width="5" height="5"/><rect x="245" y="227" width="1" height="25"/><rect x="243" y="227" width="5" height="14"/><rect x="252" y="238" width="1" height="47"/><rect x="250" y="240" width="5" height="44"/><rect x="259" y="264" width="1" height="39"/><rect x="257" y="283" width="5" height="20"/><rect x="266" y="299" width="1" height="29"/><rect x="264" y="302" width="5" height="22"/><rect x="273" y="322" width="1" height="49"/><rect x="271" y="323" width="5" height="43"/><rect x="280" y="354" width="1" height="23"/><rect x="278" y="365" width="5" height="11"/><rect x="293" y="344" width="1" height="32"/><rect x="291" y="358" width="5" height="2"/><rect x="328" y="291" width="1" height="23"/><rect x="326" y="291" width="5" height="7"/><rect x="335" y="292" width="1" height="20"/><rect x="333" y="298" width="5" height="13"/><rect x="341" y="305" width="1" height="27"/><rect x="339" y="311" width="5" height="15"/><rect x="348" y="302" width="1" height="57"/><rect x="346" y="326" width="5" height="18"/><rect x="383" y="244" width="1" height="41"/><rect x="381" y="257" width="5" height="17"/><rect x="390" y="266" width="1" height="31"/><rect x="388" y="273" width="5" height="19"/><rect x="451" y="185" width="1" height="21"/><rect x="449" y="190" width="5" height="12"/><rect x="458" y="200" width="1" height="20"/><rect x="456" y="201" width="5" height="11"/><rect x="472" y="189" width="1" height="19"/><rect x="470" y="193" width="5" height="8"/><rect x="479" y="200" width="1" height="30"/><rect x="477" y="200" width="5" height="24"/><rect x="506" y="167" width="1" height="37"/><rect x="504" y="186" width="5" height="14"/><rect x="520" y="192" width="1" height="20"/><rect x="518" y="192" width="5" height="17"/><rect x="547" y="157" width="1" height="18"/><rect x="545" y="159" width="5" height="3"/><rect x="554" y="156" width="1" height="18"/><rect x="552" y="160" width="5" height="10"/><rect x="568" y="157" width="1" height="43"/><rect x="566" y="157" width="5" height="28"/><rect x="602" y="156" width="1" height="7"/><rect x="600" y="156" width="5" height="6"/><rect x="623" y="142" width="1" height="26"/><rect x="621" y="145" width="5" height="18"/><rect x="657" y="116" width="1" height="11"/><rect x="655" y="116" width="5" height="9"/><rect x="678" y="104" width="1" height="64"/><rect x="676" y="112" width="5" height="18"/><rect x="692" y="128" width="1" height="19"/><rect x="690" y="128" width="5" height="14"/><rect x="705" y="123" width="1" height="20"/><rect x="703" y="123" width="5" height="19"/><rect x="733" y="112" width="1" height="8"/><rect x="731" y="113" width="5" height="5"/><rect x="740" y="114" width="1" height="9"/><rect x="738" y="118" width="5" height="2"/><rect x="760" y="110" width="1" height="6"/><rect x="758" y="110" width="5" height="4"/><rect x="774" y="110" width="1" height="8"/><rect x="772" y="111" width="5" height="5"/><rect x="802" y="99" width="1" height="21"/><rect x="800" y="99" width="5" height="18"/><rect x="808" y="116" width="1" height="18"/><rect x="806" y="116" width="5" height="13"/><rect x="822" y="70" width="1" height="23"/><rect x="820" y="71" width="5" height="17"/><rect x="829" y="86" width="1" height="26"/><rect x="827" y="88" width="5" height="12"/><rect x="836" y="97" width="1" height="29"/><rect x="834" y="99" width="5" height="25"/><rect x="884" y="68" width="1" height="37"/><rect x="882" y="72" width="5" height="32"/><rect x="898" y="77" width="1" height="24"/><rect x="896" y="77" width="5" height="15"/><rect x="905" y="91" width="1" height="35"/><rect x="903" y="92" width="5" height="24"/><rect x="911" y="109" width="1" height="42"/><rect x="909" y="117" width="5" height="29"/><rect x="932" y="115" width="1" height="18"/><rect x="930" y="118" width="5" height="2"/><rect x="939" y="115" width="1" height="11"/><rect x="937" y="118" width="5" height="2"/><rect x="946" y="116" width="1" height="25"/><rect x="944" y="121" width="5" height="19"/><rect x="953" y="134" width="1" height="34"/><rect x="951" y="139" width="5" height="26"/><rect x="959" y="155" width="1" height="28"/><rect x="957" y="164" width="5" height="6"/><rect x="973" y="145" width="1" height="38"/><rect x="971" y="148" width="5" height="31"/><rect x="987" y="167" width="1" height="18"/><rect x="985" y="169" width="5" height="2"/><rect x="1001" y="167" width="1" height="128"/><rect x="999" y="167" width="5" height="82"/><rect x="1021" y="193" width="1" height="33"/><rect x="1019" y="193" width="5" height="17"/><rect x="1028" y="198" width="1" height="74"/><rect x="1026" y="209" width="5" height="57"/><rect x="1035" y="262" width="1" height="48"/><rect x="1033" y="265" width="5" height="27"/><rect x="1062" y="240" width="1" height="18"/><rect x="1060" y="245" width="5" height="4"/><rect x="1069" y="247" width="1" height="39"/><rect x="1067" y="248" width="5" height="34"/><rect x="1097" y="268" width="1" height="29"/><rect x="1095" y="276" width="5" height="16"/><rect x="1104" y="289" width="1" height="36"/><rect x="1102" y="291" width="5" height="11"/><rect x="1111" y="289" width="1" height="23"/><rect x="1109" y="301" width="5" height="9"/><rect x="1152" y="221" width="1" height="29"/><rect x="1150" y="228" width="5" height="11"/><rect x="1172" y="188" width="1" height="32"/><rect x="1170" y="202" width="5" height="10"/><rect x="1179" y="207" width="1" height="27"/><rect x="1177" y="211" width="5" height="12"/><rect x="1207" y="146" width="1" height="15"/><rect x="1205" y="149" width="5" height="1"/><rect x="1214" y="134" width="1" height="24"/><rect x="1212" y="149" width="5" height="1"/><rect x="1220" y="146" width="1" height="15"/><rect x="1218" y="150" width="5" height="3"/><rect x="1234" y="144" width="1" height="39"/><rect x="1232" y="145" width="5" height="17"/><rect x="1255" y="146" width="1" height="23"/><rect x="1253" y="149" width="5" height="16"/><rect x="1268" y="155" width="1" height="42"/><rect x="1266" y="162" width="5" height="10"/><rect x="1275" y="170" width="1" height="30"/><rect x="1273" y="172" width="5" height="18"/><rect x="1296" y="135" width="1" height="22"/><rect x="1294" y="139" width="5" height="18"/><rect x="1317" y="118" width="1" height="12"/><rect x="1315" y="124" width="5" height="1"/><rect x="1337" y="90" width="1" height="11"/><rect x="1335" y="91" width="5" height="5"/><rect x="1344" y="94" width="1" height="25"/><rect x="1342" y="95" width="5" height="15"/></g><path d="M14 109.5H1533" stroke="#f23645" stroke-width="1" stroke-dasharray="1 2" shape-rendering="crispEdges"/></g><g clip-path="url(#cr)"><rect x="14" y="585" width="1519" height="136.5" fill="#7e57c2" fill-opacity="0.1"/><path d="M14 585.5H1533" stroke="#787b86" stroke-width="1" stroke-dasharray="5 6" stroke-dashoffset="-1"/><path d="M14 653.5H1533" stroke="#787b86" stroke-width="1" stroke-dasharray="5 6" stroke-dashoffset="-1"/><path d="M14 721.5H1533" stroke="#787b86" stroke-width="1" stroke-dasharray="5 6" stroke-dashoffset="-1"/><polyline points="5.2,611 12.2,603 19.2,597 26.2,597.5 32.2,586.75 39.2,579.5 46.2,574.25 53.2,579.25 60.2,597 67.2,610 74.2,623 81.2,605.25 87.2,614.5 94.2,613.75 101.2,606 108.2,635.5 115.2,627 122.2,623 129.2,612.5 135.2,617 142.2,611.25 149.2,588.75 156.2,587.5 163.2,601.5 170.2,595 177.2,579.5 184.2,572.5 190.2,577.5 197.2,570.75 204.2,566.25 211.2,563.25 218.2,578.75 225.2,573.75 232.2,581.25 238.2,578.75 245.2,600 252.2,652.5 259.2,670 266.2,686.25 273.2,711.75 280.2,717 287.2,698.75 293.2,700 300.2,697 307.2,678 314.2,667.5 321.2,634.5 328.2,641.75 335.2,653.75 341.2,666.25 348.2,677.5 355.2,645 362.2,628.75 369.2,615 376.2,615 383.2,629.5 390.2,645.5 396.2,633.25 403.2,621.25 410.2,616.25 417.2,603 424.2,600.5 431.2,593.75 438.2,593.25 444.2,584.25 451.2,597 458.2,608.25 465.2,597 472.2,605.75 479.2,630 486.2,615 493.2,606.75 499.2,605.5 506.2,621.25 513.2,615.5 520.2,632 527.2,620.75 534.2,615.75 541.2,598 547.2,600 554.2,609.25 561.2,601 568.2,632 575.2,623.75 582.2,617.5 589.2,617 596.2,610.5 602.2,617.5 609.2,612.5 616.2,604.25 623.2,626.25 630.2,611.75 637.2,603 644.2,599.5 650.2,590.75 657.2,601.25 664.2,600 671.2,592 678.2,619.25 685.2,617 692.2,635.75 699.2,618.75 705.2,641.25 712.2,636.25 719.2,626.75 726.2,613.75 733.2,620.5 740.2,622.5 747.2,615.75 753.2,613.5 760.2,618.5 767.2,616.75 774.2,622.5 781.2,616.75 788.2,608.25 795.2,603.25 802.2,636.25 808.2,655 815.2,596.25 822.2,617.5 829.2,631.25 836.2,656.25 843.2,642.5 850.2,632.5 856.2,623.25 863.2,616.75 870.2,613.75 877.2,611.75 884.2,649.25 891.2,626.75 898.2,642.5 905.2,663.75 911.2,685.25 918.2,684.25 925.2,658.75 932.2,659.25 939.2,661.75 946.2,676.75 953.2,695 959.2,697.75 966.2,675.75 973.2,695.75 980.2,686.75 987.2,688 994.2,684 1001.2,728 1008.2,703.75 1014.2,680.5 1021.2,688.75 1028.2,713.75 1035.2,722.5 1042.2,714.5 1049.2,702.5 1056.2,686.5 1062.2,688 1069.2,703.75 1076.2,699.5 1083.2,700 1090.2,700 1097.2,707.5 1104.2,712.5 1111.2,716.75 1117.2,715 1124.2,692 1131.2,665 1138.2,643 1145.2,640.5 1152.2,650.75 1159.2,644.25 1165.2,624.25 1172.2,633.25 1179.2,642 1186.2,628 1193.2,607.5 1200.2,596.25 1207.2,596.75 1214.2,597.5 1220.2,600.5 1227.2,596 1234.2,615.75 1241.2,614.25 1248.2,608.25 1255.2,625 1262.2,622 1268.2,634.25 1275.2,654.5 1282.2,617 1289.2,612.25 1296.2,630.5 1303.2,625.5 1310.2,607.5 1317.2,608 1323.2,607.5 1330.2,587 1337.2,593 1344.2,609.25" fill="none" stroke="#7e57c2" stroke-width="1.25" stroke-linejoin="round"/></g><g font-family="Liberation Sans, sans-serif"><text x="24.8" y="37.5" font-size="14.9" fill="#131722" text-anchor="start" font-weight="normal" textLength="124" lengthAdjust="spacingAndGlyphs" >USD/JPY Spot, 1D</text><text x="159.4" y="37.5" font-size="14.9" fill="#131722" text-anchor="start" font-weight="normal" textLength="9.6" lengthAdjust="spacingAndGlyphs" >O</text><text x="171.5" y="37.5" font-size="14.9" fill="#f23645" text-anchor="start" font-weight="normal" textLength="69.1" lengthAdjust="spacingAndGlyphs" >150.59300</text><text x="251.3" y="37.5" font-size="14.9" fill="#131722" text-anchor="start" font-weight="normal" textLength="9" lengthAdjust="spacingAndGlyphs" >H</text><text x="263" y="37.5" font-size="14.9" fill="#f23645" text-anchor="start" font-weight="normal" textLength="69" lengthAdjust="spacingAndGlyphs" >150.62800</text><text x="343" y="37.5" font-size="14.9" fill="#131722" text-anchor="start" font-weight="normal" textLength="7" lengthAdjust="spacingAndGlyphs" >L</text><text x="352.3" y="37.5" font-size="14.9" fill="#f23645" text-anchor="start" font-weight="normal" textLength="69" lengthAdjust="spacingAndGlyphs" >149.52500</text><text x="431.9" y="37.5" font-size="14.9" fill="#131722" text-anchor="start" font-weight="normal" textLength="8.7" lengthAdjust="spacingAndGlyphs" >C</text><text x="443" y="37.5" font-size="14.9" fill="#f23645" text-anchor="start" font-weight="normal" textLength="69.5" lengthAdjust="spacingAndGlyphs" >149.97100</text><text x="523" y="37.5" font-size="14.9" fill="#f23645" text-anchor="start" font-weight="normal" textLength="127.2" lengthAdjust="spacingAndGlyphs" >−0.61200 (−0.41%)</text><text x="24.8" y="60.9" font-size="14.9" fill="#131722" text-anchor="start" font-weight="normal" textLength="167.5" lengthAdjust="spacingAndGlyphs" >Ichimoku (9, 26, 52, 26)</text><text x="203.8" y="60.9" font-size="14.9" fill="#2196f3" text-anchor="start" font-weight="normal" textLength="70.2" lengthAdjust="spacingAndGlyphs" >149.25950</text><text x="285" y="60.9" font-size="14.9" fill="#801922" text-anchor="start" font-weight="normal" textLength="70" lengthAdjust="spacingAndGlyphs" >147.61900</text><ellipse cx="370.4" cy="55.9" rx="3.3" ry="4.6" fill="none" stroke="#131722" stroke-width="1.1"/><path d="M367.3 62L373.6 49.8" stroke="#131722" stroke-width="1" fill="none"/><text x="386.3" y="60.9" font-size="14.9" fill="#a5d6a7" text-anchor="start" font-weight="normal" textLength="70" lengthAdjust="spacingAndGlyphs" >148.43925</text><text x="468" y="60.9" font-size="14.9" fill="#faa1a4" text-anchor="start" font-weight="normal" textLength="70.5" lengthAdjust="spacingAndGlyphs" >145.56950</text><text x="24.8" y="568.3" font-size="14.9" fill="#131722" text-anchor="start" font-weight="normal" textLength="118.5" lengthAdjust="spacingAndGlyphs" >RSI (14, SMA, 14)</text><text x="153.3" y="568.3" font-size="14.9" fill="#7e57c2" text-anchor="start" font-weight="normal" textLength="38" lengthAdjust="spacingAndGlyphs" >62.73</text><text x="1544.8" y="514.5" font-size="15.3" fill="#131722" text-anchor="start" font-weight="normal" textLength="71.8" lengthAdjust="spacingAndGlyphs" >132.00000</text><text x="1544.8" y="470.5" font-size="15.3" fill="#131722" text-anchor="start" font-weight="normal" textLength="71.8" lengthAdjust="spacingAndGlyphs" >134.00000</text><text x="1544.8" y="425.5" font-size="15.3" fill="#131722" text-anchor="start" font-weight="normal" textLength="71.8" lengthAdjust="spacingAndGlyphs" >136.00000</text><text x="1544.8" y="381.5" font-size="15.3" fill="#131722" text-anchor="start" font-weight="normal" textLength="71.8" lengthAdjust="spacingAndGlyphs" >138.00000</text><text x="1544.8" y="336.5" font-size="15.3" fill="#131722" text-anchor="start" font-weight="normal" textLength="71.8" lengthAdjust="spacingAndGlyphs" >140.00000</text><text x="1544.8" y="292.5" font-size="15.3" fill="#131722" text-anchor="start" font-weight="normal" textLength="71.8" lengthAdjust="spacingAndGlyphs" >142.00000</text><text x="1544.8" y="247.5" font-size="15.3" fill="#131722" text-anchor="start" font-weight="normal" textLength="71.8" lengthAdjust="spacingAndGlyphs" >144.00000</text><text x="1544.8" y="203.5" font-size="15.3" fill="#131722" text-anchor="start" font-weight="normal" textLength="71.8" lengthAdjust="spacingAndGlyphs" >146.00000</text><text x="1544.8" y="69.5" font-size="15.3" fill="#131722" text-anchor="start" font-weight="normal" textLength="71.8" lengthAdjust="spacingAndGlyphs" >152.00000</text><text x="1544.8" y="24.5" font-size="15.3" fill="#131722" text-anchor="start" font-weight="normal" textLength="71.8" lengthAdjust="spacingAndGlyphs" >154.00000</text><text x="1544.8" y="555.5" font-size="15.3" fill="#131722" text-anchor="start" font-weight="normal" textLength="38.2" lengthAdjust="spacingAndGlyphs" >80.00</text><text x="1544.8" y="624.5" font-size="15.3" fill="#131722" text-anchor="start" font-weight="normal" textLength="38.2" lengthAdjust="spacingAndGlyphs" >60.00</text><text x="1544.8" y="692.5" font-size="15.3" fill="#131722" text-anchor="start" font-weight="normal" textLength="38.2" lengthAdjust="spacingAndGlyphs" >40.00</text></g><g font-family="Liberation Sans, sans-serif"><path d="M1533 98H1620.8a2 2 0 0 1 2 2V119a2 2 0 0 1 -2 2H1533Z" fill="#f23645"/><text x="1544.8" y="114.4" font-size="15.3" fill="#fff" text-anchor="start" font-weight="normal" textLength="71.8" lengthAdjust="spacingAndGlyphs" >149.97100</text><path d="M1533 121H1620.8a2 2 0 0 1 2 2V141.1a2 2 0 0 1 -2 2H1533Z" fill="#2196f3"/><text x="1544.8" y="136.4" font-size="15.3" fill="#fff" text-anchor="start" font-weight="normal" textLength="71.8" lengthAdjust="spacingAndGlyphs" >149.25950</text><path d="M1533 143.1H1620.8a2 2 0 0 1 2 2V163.9a2 2 0 0 1 -2 2H1533Z" fill="#a5d6a7"/><text x="1544.8" y="159.6" font-size="15.3" fill="#131722" text-anchor="start" font-weight="normal" textLength="71.8" lengthAdjust="spacingAndGlyphs" >148.43925</text><path d="M1533 165.9H1620.8a2 2 0 0 1 2 2V185.9a2 2 0 0 1 -2 2H1533Z" fill="#801922"/><text x="1544.8" y="181.6" font-size="15.3" fill="#fff" text-anchor="start" font-weight="normal" textLength="71.8" lengthAdjust="spacingAndGlyphs" >147.61900</text><path d="M1533 196.1H1620.8a2 2 0 0 1 2 2V216.7a2 2 0 0 1 -2 2H1533Z" fill="#faa1a4"/><text x="1544.8" y="212.5" font-size="15.3" fill="#131722" text-anchor="start" font-weight="normal" textLength="71.8" lengthAdjust="spacingAndGlyphs" >145.56950</text><path d="M1533 598.2H1587.3a2 2 0 0 1 2 2V618.8000000000001a2 2 0 0 1 -2 2H1533Z" fill="#7e57c2"/><text x="1544.3" y="614.8" font-size="15.3" fill="#fff" text-anchor="start" font-weight="normal" textLength="38.8" lengthAdjust="spacingAndGlyphs" >62.73</text></g><g font-family="Liberation Sans, sans-serif"><text x="73.86" y="770.2" font-size="14.9" fill="#131722" text-anchor="middle" font-weight="normal" >Jun</text><text x="224.93" y="770.2" font-size="14.9" fill="#131722" text-anchor="middle" font-weight="normal" >Jul</text><text x="369.13" y="770.2" font-size="14.9" fill="#131722" text-anchor="middle" font-weight="normal" >Aug</text><text x="527.07" y="770.2" font-size="14.9" fill="#131722" text-anchor="middle" font-weight="normal" >Sep</text><text x="671.27" y="770.2" font-size="14.9" fill="#131722" text-anchor="middle" font-weight="normal" >Oct</text><text x="822.34" y="770.2" font-size="14.9" fill="#131722" text-anchor="middle" font-weight="normal" >Nov</text><text x="973.41" y="770.2" font-size="14.9" fill="#131722" text-anchor="middle" font-weight="normal" >Dec</text><text x="1275.55" y="770.2" font-size="14.9" fill="#131722" text-anchor="middle" font-weight="normal" >Feb</text><text x="1419.75" y="770.2" font-size="14.9" fill="#131722" text-anchor="middle" font-weight="normal" >Mar</text><text x="1117.91" y="770.2" font-size="14.9" fill="#131722" text-anchor="middle" font-weight="bold" textLength="35.5" lengthAdjust="spacingAndGlyphs" >2024</text><clipPath id="c25"><rect x="1500" y="750" width="33" height="30"/></clipPath><text x="1529.92" y="770.2" font-size="14.9" fill="#131722" text-anchor="middle" font-weight="normal" clip-path="url(#c25)">25</text></g><g transform="translate(13.1 796.1) scale(0.705)" fill="#131722"><path d="M14 22H7V11H0V4h14v18zM28 22h-8l7.5-18h8L28 22z"/><circle cx="20" cy="8" r="4"/></g><g font-family="Liberation Sans, sans-serif"><text x="43.2" y="811.5" font-size="15.5" fill="#131722" text-anchor="start" font-weight="normal" textLength="91.8" lengthAdjust="spacingAndGlyphs" stroke="#131722" stroke-width="0.25">TradingView</text></g></svg></body></html>
